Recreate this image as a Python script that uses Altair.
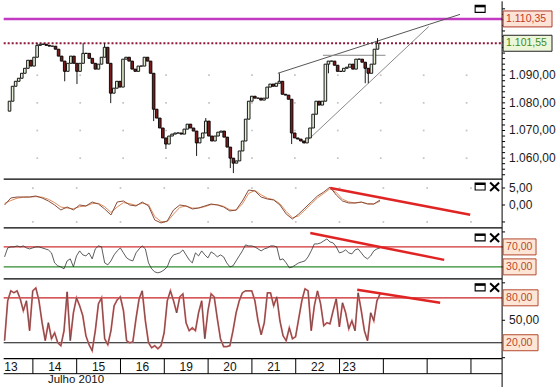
import altair as alt
import pandas as pd

FONT = "Liberation Sans"

# ------------------------------------------------------------------ data
days = ["13", "14", "15", "16", "19", "20", "21", "22", "23"]
extra_empty_days = 2
month_label = "Julho 2010"

first_open = 1077.0
closes = [
    1080.6, 1086.0, 1087.8, 1088.9, 1090.7, 1092.5, 1095.4, 1093.3, 1096.5, 1100.8,
    1101.2, 1101.2, 1100.8, 1100.5, 1100.5, 1099.4, 1096.9, 1095.1, 1091.4, 1094.3,
    1096.9, 1094.3, 1091.4, 1094.3, 1097.9, 1097.9, 1096.1, 1094.3, 1092.2, 1094.0,
    1096.5, 1100.1, 1094.3, 1083.5, 1085.3, 1087.8, 1085.7, 1095.8, 1096.5, 1095.1,
    1092.2, 1091.4, 1093.3, 1093.3, 1096.5, 1095.1, 1090.7, 1077.7, 1074.5, 1070.9,
    1067.3, 1065.1, 1068.0, 1068.7, 1069.1, 1069.1, 1068.7, 1070.5, 1072.3, 1070.9,
    1069.8, 1065.5, 1067.3, 1069.1, 1073.4, 1068.0, 1066.2, 1068.0, 1069.4, 1069.8,
    1067.6, 1064.0, 1060.0, 1058.2, 1059.0, 1062.6, 1066.2, 1074.1, 1080.6, 1082.4,
    1081.7, 1081.7, 1081.0, 1081.7, 1085.7, 1086.8, 1086.0, 1087.1, 1087.8, 1083.1,
    1082.8, 1081.3, 1069.1, 1067.3, 1066.9, 1066.2, 1065.5, 1067.3, 1070.9, 1075.9,
    1080.6, 1079.2, 1080.6, 1094.0, 1095.1, 1095.1, 1093.6, 1091.4, 1091.4, 1092.5,
    1092.9, 1094.0, 1092.2, 1095.8, 1095.8, 1094.7, 1092.5, 1090.7, 1094.0, 1099.4,
    1101.55,
]
wick_low = {0: 1077.0, 18: 1087.8, 22: 1086.8, 33: 1079.9, 47: 1073.4, 51: 1063.3,
            61: 1060.8, 72: 1056.4, 73: 1054.6, 92: 1065.1, 104: 1090.7,
            116: 1087.1, 117: 1087.1}
wick_high = {9: 1101.55, 24: 1101.55, 31: 1101.55, 64: 1074.5, 88: 1090.7, 120: 1103.4}

resistance = 1110.35
last_price = 1101.55

macd_main = [
    0.0, 2.06, 2.35, 2.35, 2.35, 2.65, 2.06, 1.18, 0.0, -1.47,
    -0.59, -1.47, 0.0, -0.29, 0.88, 0.29, -1.18, -2.94, 0.88, 1.18,
    0.0, -0.29, 0.88, -0.29, -4.41, -5.29, -4.71, -1.47, 0.0, -0.29,
    -1.18, -0.88, -0.29, 0.29, 0.0, -0.59, -1.76, -1.47, 1.18, 4.41,
    4.12, 2.35, 1.76, 1.47, 0.0, -2.65, -4.12, -2.65, -0.88, 0.88,
    2.65, 3.82, 5.29, 2.94, 1.18, 0.59, 0.59, 0.88, 0.29, 0.29,
    1.47,
]
macd_signal = [
    0.5, 1.3, 2.0, 2.3, 2.35, 2.45, 2.3, 1.7, 0.7, -0.6,
    -0.9, -1.1, -0.5, -0.3, 0.4, 0.5, -0.5, -2.2, -0.6, 0.7,
    0.4, -0.1, 0.5, 0.1, -3.4, -4.9, -4.9, -2.7, -0.7, -0.3,
    -0.9, -0.9, -0.5, 0.1, 0.1, -0.4, -1.4, -1.6, 0.3, 3.4,
    4.3, 3.0, 2.0, 1.6, 0.4, -1.9, -3.8, -3.2, -1.5, 0.3,
    2.1, 3.4, 4.8, 3.7, 1.7, 0.9, 0.6, 0.8, 0.4, 0.3,
    1.1,
]
macd_step = 2  # one MACD sample every two bars

rsi = [
    50, 68, 70, 70, 72, 70, 72, 68, 66, 68,
    70, 70, 68, 66, 64, 58, 38, 32, 30, 26,
    42, 46, 30, 52, 62, 54, 52, 58, 46, 66,
    72, 70, 38, 34, 42, 54, 62, 68, 58, 48,
    44, 42, 58, 66, 72, 66, 38, 26, 20, 18,
    20, 24, 30, 46, 54, 56, 58, 64, 54, 44,
    38, 58, 52, 62, 54, 48, 60, 56, 50, 54,
    50, 38, 30, 32, 42, 52, 62, 74, 72, 72,
    70, 66, 62, 66, 68, 72, 72, 70, 44, 46,
    38, 28, 30, 34, 38, 40, 42, 50, 62, 76,
    76, 78, 82, 86, 80, 78, 70, 58, 60, 64,
    58, 56, 64, 66, 58, 50, 46, 52, 62, 66,
    68,
]
stoch = [
    22.7, 76, 89.3, 86.7, 89.3, 78.7, 62.7, 76, 36, 89.3,
    93.3, 76, 46.7, 22.7, 46.7, 25.3, 33.3, 20, 16, 36,
    88, 22.7, 60, 80, 69.3, 56, 29.3, 17.3, 9.3, 36,
    72, 80, 25.3, 17.3, 36, 69.3, 77.3, 81.3, 62.7, 22.7,
    20, 21.3, 52, 78.7, 89.3, 49.3, 20, 13.3, 16, 12,
    16, 33.3, 76, 89.3, 76, 60, 81.3, 85.3, 46.7, 36,
    40, 36, 60, 76, 25.3, 62.7, 85.3, 81.3, 52, 25.3,
    14.7, 14.7, 16, 36, 60, 76, 86.7, 89.3, 89.3, 89.3,
    76, 49.3, 30.7, 46.7, 86.7, 86.7, 69.3, 81.3, 49.3, 29.3,
    22.7, 40, 25.3, 28, 52, 76, 92, 89.3, 36, 69.3,
    89.3, 72, 42.7, 46.7, 45.3, 62.7, 78.7, 41.3, 73.3, 60,
    38.7, 49.3, 36, 86.7, 62.7, 36, 22.7, 60, 49.3, 76,
    85.3,
]

# axis ticks / labels per panel
main_ticks = list(range(1054, 1116, 2))
main_labels = [1060, 1070, 1080, 1090]
macd_ticks = [-5, 0, 5]
macd_labels = [0, 5]
rsi_ticks = [30, 70, 100]
sto_ticks = [0, 50, 100]
sto_labels = [50]

# trend lines: (bar_start, value_start, bar_end, value_end)
price_trends = [(88.0, 1090.7, 147.4, 1112.0), (96.7, 1065.4, 137.2, 1107.6)]
price_flat = (102.7, 123.1, 1097.2)
macd_trend = (104.6, 5.0, 149.3, -2.9)
rsi_trend = (98.2, 98.0, 141.0, 44.0)
stoch_trend = (113.2, 90.7, 139.7, 73.3)

# ------------------------------------------------------------------ layout
W = 500
H_MAIN, H_MACD, H_RSI, H_STO, H_AX = 178, 49, 51, 80, 29
XMAX = 159.5
BARS_PER_DAY = 14
FIRST_SEP = 9.55

MAIN_DOM = [1052.45, 1116.71]
MACD_DOM = [-6.76, 7.65]
RSI_DOM = [6, 108]
STO_DOM = [-1.33, 105.33]

xs = alt.Scale(domain=[0, XMAX], nice=False, zero=False)
one = pd.DataFrame({"a": [0]})
seps = [FIRST_SEP + BARS_PER_DAY * k for k in range(len(days) + extra_empty_days)]
BOX_FS = 10.5


def fmt(v):
    s = f"{v:,.2f}"
    return s.replace(",", "_").replace(".", ",").replace("_", ".")


def X(field="t"):
    return alt.X(f"{field}:Q", scale=xs, axis=None)


def Y(field, dom):
    return alt.Y(field, type="quantitative",
                 scale=alt.Scale(domain=dom, nice=False, zero=False), axis=None)


def yaxis(dom, h, ticks, labels):
    out = [
        alt.Chart(one).mark_rule(color="black", strokeWidth=1).encode(
            x=alt.value(W), y=alt.value(0), y2=alt.value(h)),
        alt.Chart(pd.DataFrame({"v": ticks})).mark_rule(color="black", strokeWidth=1).encode(
            x=alt.value(W), x2=alt.value(W + 3), y=Y("v", dom)),
    ]
    if labels:
        out.append(
            alt.Chart(pd.DataFrame({"v": labels, "lab": [fmt(v) for v in labels]})).mark_text(
                align="left", baseline="middle", font=FONT, fontSize=12, color="#1a1a1a").encode(
                x=alt.value(W + 7), y=Y("v", dom), text="lab:N"))
    return out


def hrule(h, width=1.3):
    return alt.Chart(one).mark_rule(color="black", strokeWidth=width).encode(
        x=alt.value(0.7), x2=alt.value(W), y=alt.value(h))


def level(v, dom, color, width=1.0, dash=None):
    kw = dict(color=color, strokeWidth=width)
    if dash is not None:
        kw["strokeDash"] = dash
    return alt.Chart(pd.DataFrame({"v": [v]})).mark_rule(**kw).encode(
        y=Y("v", dom), x=alt.value(0.7), x2=alt.value(W))


def trend(segs, dom, color, width):
    df = pd.DataFrame(segs, columns=["t1", "v1", "t2", "v2"])
    return alt.Chart(df).mark_rule(color=color, strokeWidth=width).encode(
        x=X("t1"), x2="t2:Q", y=Y("v1", dom), y2="v2:Q")


def dots(levels, dom):
    df = pd.DataFrame([(t, v) for t in seps for v in levels], columns=["t", "v"])
    return alt.Chart(df).mark_square(size=3, color="#c4c4c4", opacity=1).encode(
        x=X("t"), y=Y("v", dom))


def boxes(vals, labels, dom, h, width, fills, strokes, tcolors):
    half = 8 / (h / (dom[1] - dom[0]))
    df = pd.DataFrame({"v": vals, "lab": labels, "fill": fills,
                       "stroke": strokes, "tc": tcolors})
    df["hi"] = df["v"] + half
    df["lo"] = df["v"] - half
    rect = alt.Chart(df).mark_rect(strokeWidth=1).encode(
        x=alt.value(501), x2=alt.value(501 + width),
        y=Y("hi", dom), y2="lo:Q",
        fill=alt.Fill("fill:N", scale=None), stroke=alt.Stroke("stroke:N", scale=None))
    txt = alt.Chart(df).mark_text(align="left", baseline="middle", font=FONT,
                                  fontSize=BOX_FS).encode(
        x=alt.value(504), y=Y("v", dom), text="lab:N",
        color=alt.Color("tc:N", scale=None))
    return [rect, txt]


def icon(y0, with_x=True):
    out = [
        alt.Chart(one).mark_rect(fill="white", stroke="black", strokeWidth=1.1).encode(
            x=alt.value(473), x2=alt.value(483), y=alt.value(y0), y2=alt.value(y0 + 7)),
        alt.Chart(one).mark_rule(color="black", strokeWidth=2).encode(
            x=alt.value(473), x2=alt.value(483), y=alt.value(y0 + 1)),
    ]
    if with_x:
        out += [
            alt.Chart(one).mark_rule(color="black", strokeWidth=2).encode(
                x=alt.value(488), x2=alt.value(497), y=alt.value(y0 - 0.5), y2=alt.value(y0 + 8)),
            alt.Chart(one).mark_rule(color="black", strokeWidth=2).encode(
                x=alt.value(488), x2=alt.value(497), y=alt.value(y0 + 8), y2=alt.value(y0 - 0.5)),
        ]
    return out


# ------------------------------------------------------------------ main price panel
n = len(closes)
opens = [first_open] + closes[:-1]
cdf = pd.DataFrame({
    "t": [i + 0.5 for i in range(n)],
    "open": opens,
    "close": closes,
    "low": [wick_low.get(i, min(o, c)) for i, (o, c) in enumerate(zip(opens, closes))],
    "high": [wick_high.get(i, max(o, c)) for i, (o, c) in enumerate(zip(opens, closes))],
    "up": [c >= o for o, c in zip(opens, closes)],
})

wicks = alt.Chart(cdf).mark_rule(color="black", strokeWidth=0.9).encode(
    x=X("t"), y=Y("low", MAIN_DOM), y2="high:Q")
bodies = alt.Chart(cdf).mark_bar(size=2.6, stroke="black", strokeWidth=0.9).encode(
    x=X("t"), y=Y("open", MAIN_DOM), y2="close:Q",
    color=alt.condition("datum.up", alt.value("#e4f1d8"), alt.value("#7a1c1c")))

flat = alt.Chart(pd.DataFrame({"t1": [price_flat[0]], "t2": [price_flat[1]],
                               "v": [price_flat[2]]})).mark_rule(
    color="#8a8a8a", strokeWidth=1).encode(x=X("t1"), x2="t2:Q", y=Y("v", MAIN_DOM))

main = alt.layer(
    dots([1060, 1070, 1080, 1090], MAIN_DOM),
    level(resistance, MAIN_DOM, "#c23ac2", 2.5),
    level(last_price, MAIN_DOM, "#8e1838", 2, [2, 2]),
    trend([price_trends[0]], MAIN_DOM, "#555555", 1),
    trend([price_trends[1]], MAIN_DOM, "#8a8a8a", 1),
    flat,
    wicks,
    bodies,
    *yaxis(MAIN_DOM, H_MAIN, main_ticks, main_labels),
    *boxes([resistance, last_price], [fmt(resistance), fmt(last_price)], MAIN_DOM,
           H_MAIN, 49, ["#fce3d6", "#eef6da"], ["#b0392a", "#222222"],
           ["#c0392b", "#3d8b22"]),
    *icon(4, with_x=False),
    hrule(H_MAIN),
).properties(width=W, height=H_MAIN)

# ------------------------------------------------------------------ MACD panel
mdf = pd.DataFrame({"t": [macd_step * k + 0.5 for k in range(len(macd_main))],
                    "m": macd_main, "s": macd_signal})
macd = alt.layer(
    dots([-5, 5], MACD_DOM),
    alt.Chart(mdf).mark_line(color="#d98e5f", strokeWidth=1).encode(
        x=X("t"), y=Y("s", MACD_DOM)),
    alt.Chart(mdf).mark_line(color="#8a4a38", strokeWidth=1).encode(
        x=X("t"), y=Y("m", MACD_DOM)),
    trend([macd_trend], MACD_DOM, "#e02424", 2.5),
    *yaxis(MACD_DOM, H_MACD, macd_ticks, macd_labels),
    *icon(4),
    hrule(H_MACD),
).properties(width=W, height=H_MACD)

# ------------------------------------------------------------------ RSI panel
rdf = pd.DataFrame({"t": [i + 0.5 for i in range(len(rsi))], "r": rsi})
rsi_panel = alt.layer(
    level(70, RSI_DOM, "#d03030", 1.2),
    level(30, RSI_DOM, "#2e8b2e", 1.2),
    alt.Chart(rdf).mark_line(color="#333333", strokeWidth=0.8).encode(
        x=X("t"), y=Y("r", RSI_DOM)),
    trend([rsi_trend], RSI_DOM, "#e02424", 2.5),
    *yaxis(RSI_DOM, H_RSI, rsi_ticks, []),
    *boxes([70, 30], [fmt(70), fmt(30)], RSI_DOM, H_RSI, 33,
           ["#fde6d6", "#fde6d6"], ["#b5482e", "#b5482e"], ["#b5482e", "#b5482e"]),
    *icon(6),
    hrule(H_RSI),
).properties(width=W, height=H_RSI)

# ------------------------------------------------------------------ Stochastic panel
sdf = pd.DataFrame({"t": [i + 0.5 for i in range(len(stoch))], "k": stoch})
sto = alt.layer(
    level(80, STO_DOM, "#c82020", 1.2),
    level(20, STO_DOM, "#111111", 1.2),
    alt.Chart(sdf).mark_line(color="#e06a6a", strokeWidth=1.8).encode(
        x=X("t"), y=Y("k", STO_DOM)),
    alt.Chart(sdf).mark_line(color="#3a3a3a", strokeWidth=0.6).encode(
        x=X("t"), y=Y("k", STO_DOM)),
    trend([stoch_trend], STO_DOM, "#e02424", 2.5),
    *yaxis(STO_DOM, H_STO, sto_ticks, sto_labels),
    *boxes([80, 20], [fmt(80), fmt(20)], STO_DOM, H_STO, 35,
           ["#fde6d6", "#fde6d6"], ["#b5482e", "#b5482e"], ["#b5482e", "#b5482e"]),
    *icon(5),
).properties(width=W, height=H_STO)

# ------------------------------------------------------------------ x axis strip
sep_df = pd.DataFrame({"t": seps})
lab_df = pd.DataFrame({
    "t": [FIRST_SEP + BARS_PER_DAY * k - BARS_PER_DAY / 2 for k in range(len(days) - 1)],
    "d": days[:-1]})
last_df = pd.DataFrame({"t": [FIRST_SEP + BARS_PER_DAY * (len(days) - 2)], "d": [days[-1]]})

axp = alt.layer(
    alt.Chart(sep_df).mark_rule(color="black", strokeWidth=1).encode(
        x=X("t"), y=alt.value(0), y2=alt.value(15)),
    hrule(0, 1.3),
    hrule(15, 1),
    alt.Chart(lab_df).mark_text(font=FONT, fontSize=12, baseline="middle",
                                color="#111111").encode(
        x=X("t"), y=alt.value(8), text="d:N"),
    alt.Chart(last_df).mark_text(font=FONT, fontSize=12, baseline="middle", align="left",
                                 dx=3, color="#111111").encode(
        x=X("t"), y=alt.value(8), text="d:N"),
    alt.Chart(pd.DataFrame({"m": [month_label]})).mark_text(
        font=FONT, fontSize=11.5, baseline="middle", align="left", color="#111111").encode(
        x=alt.value(45), y=alt.value(21.5), text="m:N"),
    alt.Chart(one).mark_rule(color="black", strokeWidth=1).encode(
        x=alt.value(W), y=alt.value(0), y2=alt.value(H_AX)),
).properties(width=W, height=H_AX)

chart = alt.vconcat(main, macd, rsi_panel, sto, axp, spacing=0, bounds="flush",
                    padding=0, background="white").configure_view(stroke=None)

chart.save("out.html", embed_options={"renderer": "svg", "actions": False})
